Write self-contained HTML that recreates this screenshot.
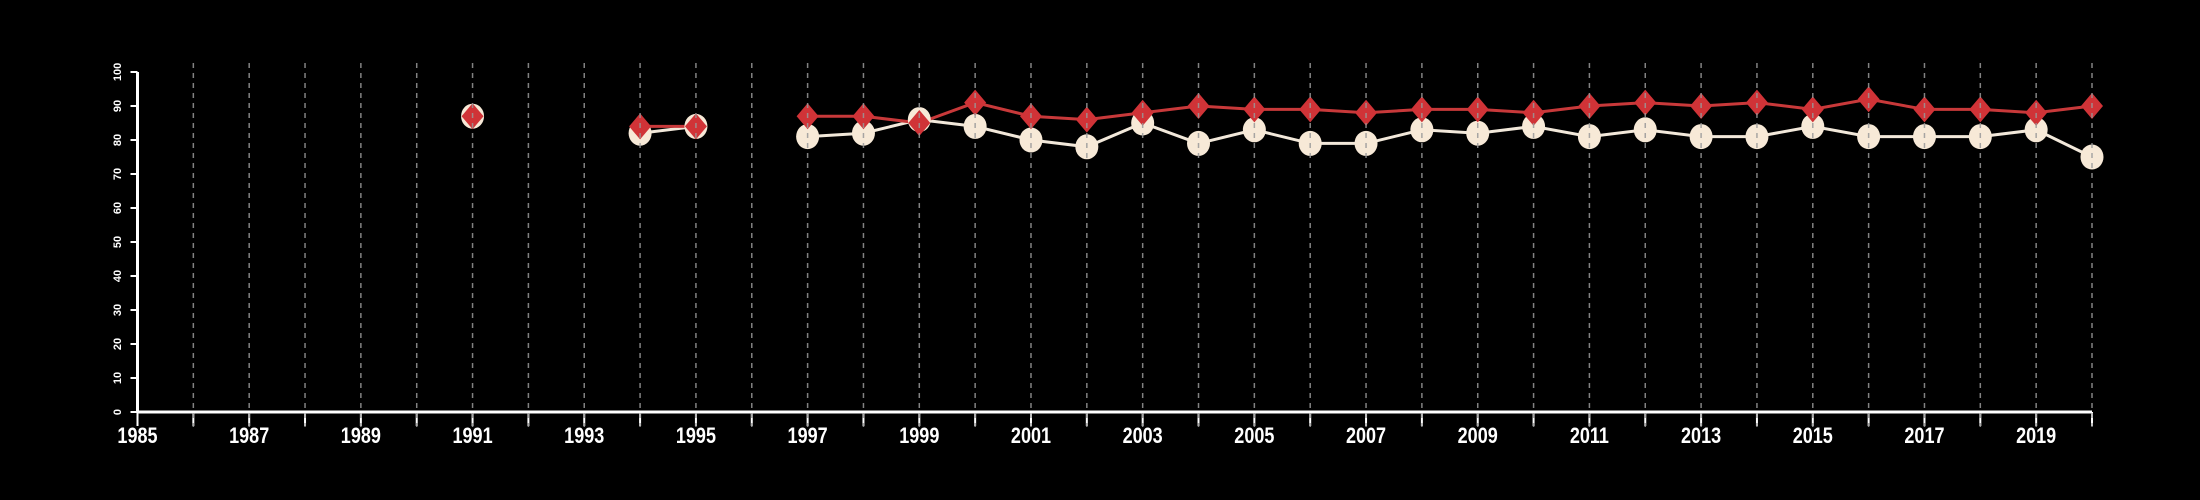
<!DOCTYPE html>
<html><head><meta charset="utf-8">
<style>
html,body{margin:0;padding:0;background:#000;}
svg{display:block;}
</style></head>
<body>
<svg id="chart" width="2200" height="500" xmlns="http://www.w3.org/2000/svg">
<rect width="2200" height="500" fill="#000"/>
</svg>
<script>
const years = [1991,1992,1993,1994,1995,1996,1997,1998,1999,2000,2001,2002,2003,2004,2005,2006,2007,2008,2009,2010,2011,2012,2013,2014,2015,2016,2017,2018,2019,2020];
const seriesRed = [87,null,null,84,84,null,87,87,85,91,87,86,88,90,89,89,88,89,89,88,90,91,90,91,89,92,89,89,88,90];
const seriesCream = [87,null,null,82,84,null,81,82,86,84,80,78,85,79,83,79,79,83,82,84,81,83,81,81,84,81,81,81,83,75];
const yTicks = [0,10,20,30,40,50,60,70,80,90,100];
const xLabels = [1985,1987,1989,1991,1993,1995,1997,1999,2001,2003,2005,2007,2009,2011,2013,2015,2017,2019];

const NS = 'http://www.w3.org/2000/svg';
const svg = document.getElementById('chart');
const X0 = 137.5, X1 = 2092, Y0 = 412, Y1 = 72;
const xMin = 1985, xMax = 2020;
function xs(v){ return X0 + (v - xMin) * (X1 - X0) / (xMax - xMin); }
function ys(v){ return Y0 - v * (Y0 - Y1) / 100; }
function mk(tag, attrs){ const e = document.createElementNS(NS, tag); for (const k in attrs) e.setAttribute(k, attrs[k]); svg.appendChild(e); return e; }

let ax = mk('line', {x1:X0, y1:Y0, x2:X1, y2:Y0, stroke:'#fff', 'stroke-width':3});


let ay = mk('line', {x1:X0, y1:Y0, x2:X0, y2:Y1, stroke:'#fff', 'stroke-width':3});



yTicks.forEach(t => {
  const tk = mk('line', {x1:X0-7, y1:ys(t), x2:X0, y2:ys(t), stroke:'#fff', 'stroke-width':2});
  
  
  const tx = mk('text', {x:0, y:0, fill:'#fff', 'font-family':'Liberation Sans, sans-serif', 'font-size':11, 'font-weight':'bold', 'text-anchor':'middle', transform:`translate(121,${ys(t)}) rotate(-90)`});
  tx.textContent = t;
  
  
});

for (let y = xMin; y <= xMax; y++) {
  const tk = mk('line', {x1:xs(y), y1:Y0, x2:xs(y), y2:Y0+14, stroke:'#fff', 'stroke-width':2});
  
  
}
xLabels.forEach(l => {
  const tx = mk('text', {x:xs(l), y:443, fill:'#fff', 'font-family':'Liberation Sans, sans-serif', 'font-size':22, 'font-weight':'bold', 'text-anchor':'middle', transform:`translate(${xs(l)},0) scale(0.82,1) translate(${-xs(l)},0)`});
  tx.textContent = l;
  
  
});

function drawLine(vals, color, name){
  let seg = [];
  const flush = () => {
    if (seg.length > 1) {
      const p = mk('polyline', {points: seg.join(' '), fill:'none', stroke:color, 'stroke-width':3});
      
      
    }
    seg = [];
  };
  vals.forEach((v,i) => { if (v === null) flush(); else seg.push(xs(years[i]) + ',' + ys(v)); });
  flush();
}
drawLine(seriesCream, '#f2e8da', 'cream-series-line');
drawLine(seriesRed, '#c8393a', 'red-series-line');

seriesCream.forEach((v,i) => {
  if (v === null) return;
  const c = mk('ellipse', {cx:xs(years[i]), cy:ys(v), rx:11.5, ry:12.5, fill:'#f7e9d7'});
  
  
});
seriesRed.forEach((v,i) => {
  if (v === null) return;
  const x = xs(years[i]), y = ys(v);
  const d = mk('polygon', {points:`${x},${y-13} ${x+11},${y} ${x},${y+13} ${x-11},${y}`, fill:'#d03337'});
  
  
});

for (let y = xMin + 1; y <= xMax; y++) {
  const g = mk('line', {x1:xs(y), y1:63, x2:xs(y), y2:427, stroke:'#999', 'stroke-width':1.5, 'stroke-dasharray':'5,5', opacity:0.85});
  
  
}
</script>
</body></html>
